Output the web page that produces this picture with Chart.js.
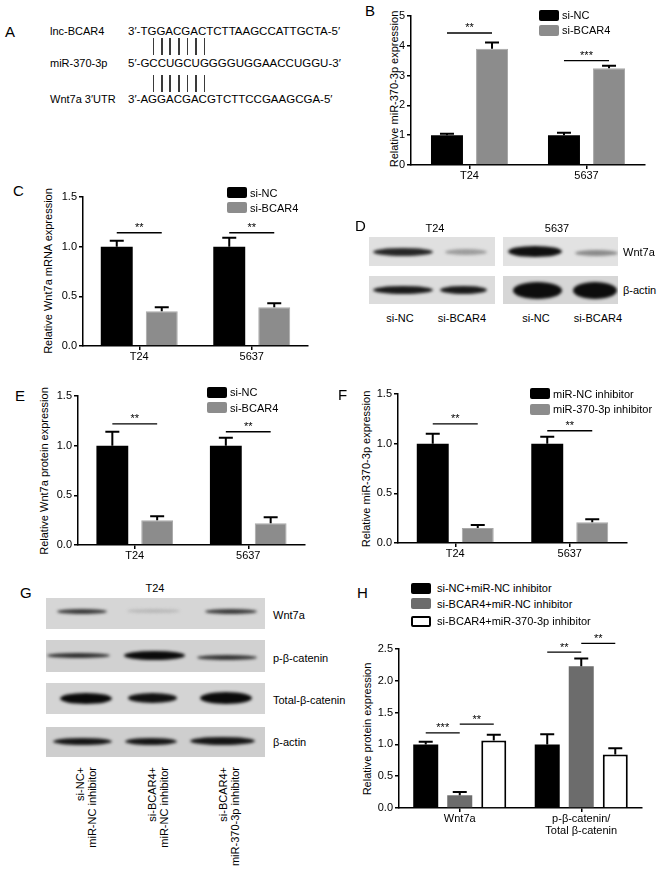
<!DOCTYPE html>
<html>
<head>
<meta charset="utf-8">
<script src="https://cdn.jsdelivr.net/npm/chart.js@4.4.1/dist/chart.umd.min.js"></script>
<style>
html, body { margin: 0; padding: 0; background: #fff; }
#page { position: relative; width: 669px; height: 869px; overflow: hidden; font-family: 'Liberation Sans', Arial, Helvetica, sans-serif; color: #000; }
.t { position: absolute; white-space: nowrap; font-size: 11px; line-height: 13px; }
.seq { font-size: 11.5px; }
.letter { font-size: 15px; line-height: 17px; }
.sw { position: absolute; width: 20px; height: 11px; border-radius: 2px; box-sizing: border-box; }
.blot { position: absolute; overflow: hidden; }
.band { position: absolute; border-radius: 50%; filter: blur(1.6px); }
.tick { position: absolute; width: 1.6px; background: #3a3a3a; }
.rot { position: absolute; width: 100px; font-size: 11px; line-height: 12px; text-align: right; transform-origin: 0 0; transform: rotate(-90deg); white-space: nowrap; }
canvas { position: absolute; }
</style>
</head>
<body>
<div id="page"></div>
<script>
// ---- data ----
const cells = ['T24', '5637'];

// B: miR-370-3p after BCAR4 knockdown
const bNC = [1.0, 1.0];
const bNCErr = [0.05, 0.08];
const bKD = [3.9, 3.25];
const bKDErr = [0.21, 0.08];
const bSig = [[0, 0, 1, 4.43, '**'], [1, 0, 1, 3.5, '***']];

// C: Wnt7a mRNA
const cNC = [1.0, 1.0];
const cNCErr = [0.06, 0.09];
const cKD = [0.35, 0.39];
const cKDErr = [0.04, 0.04];
const cSig = [[0, 0, 1, 1.14, '**'], [1, 0, 1, 1.14, '**']];

// E: Wnt7a protein
const eNC = [1.0, 1.0];
const eNCErr = [0.14, 0.08];
const eKD = [0.25, 0.22];
const eKDErr = [0.04, 0.06];
const eSig = [[0, 0, 1, 1.22, '**'], [1, 0, 1, 1.14, '**']];

// F: miR-370-3p after inhibitor
const fNC = [1.0, 1.0];
const fNCErr = [0.1, 0.07];
const fInh = [0.15, 0.21];
const fInhErr = [0.03, 0.03];
const fSig = [[0, 0, 1, 1.2, '**'], [1, 0, 1, 1.13, '**']];

// H: rescue
const hCats = ['Wnt7a', ['p-β-catenin/', 'Total β-catenin']];
const hNC = [1.0, 1.0];
const hNCErr = [0.04, 0.16];
const hKD = [0.2, 2.23];
const hKDErr = [0.05, 0.12];
const hRescue = [1.06, 0.84];
const hRescueErr = [0.09, 0.1];
const hSig = [[0, 0, 1, 1.18, '***'], [0, 1, 2, 1.32, '**'], [1, 0, 1, 2.45, '**'], [1, 1, 2, 2.59, '**']];

const FONT = "'Liberation Sans', Arial, Helvetica, sans-serif";
const GRAY = '#8c8c8c';
const DARKGRAY = '#6c6c6c';
const page = document.getElementById('page');

Chart.defaults.font.family = FONT;
Chart.defaults.font.size = 11;
Chart.defaults.color = '#000';

// ---- helpers for plain text ----
function text(x, y, s, cls, align) {
    const d = document.createElement('div');
    d.className = 't' + (cls ? ' ' + cls : '');
    d.textContent = s;
    d.style.left = x + 'px';
    d.style.top = y + 'px';
    const tx = align === 'c' ? '-50%' : align === 'r' ? '-100%' : '0';
    d.style.transform = `translate(${tx}, -50%)`;
    page.appendChild(d);
    return d;
}

function yTitle(x, y, s) {
    const d = text(x, y, s);
    d.style.transform = 'translate(-50%, -50%) rotate(-90deg)';
}

function legend(x, tx, rows) {
    rows.forEach(([y, color, label, border]) => {
        const sw = document.createElement('div');
        sw.className = 'sw';
        sw.style.left = x + 'px';
        sw.style.top = (y - 5.5) + 'px';
        sw.style.background = color;
        if (border) sw.style.border = '2px solid #000';
        page.appendChild(sw);
        text(tx, y, label);
    });
}

function blot(x1, y1, x2, y2, bg, bands) {
    const b = document.createElement('div');
    b.className = 'blot';
    b.style.left = x1 + 'px';
    b.style.top = y1 + 'px';
    b.style.width = (x2 - x1) + 'px';
    b.style.height = (y2 - y1) + 'px';
    b.style.background = bg;
    bands.forEach(([bx1, bx2, by, h, c]) => {
        const d = document.createElement('div');
        d.className = 'band';
        d.style.left = (bx1 - x1) + 'px';
        d.style.top = (by - y1 - h / 2) + 'px';
        d.style.width = (bx2 - bx1) + 'px';
        d.style.height = h + 'px';
        d.style.background = c;
        b.appendChild(d);
    });
    page.appendChild(b);
}

// ---- chart plugins: error bars and significance brackets ----
const errorBars = {
    id: 'errorBars',
    afterDatasetsDraw(chart) {
        const ctx = chart.ctx;
        const y = chart.scales.y;
        chart.data.datasets.forEach((ds, i) => {
            if (!ds.errors) return;
            chart.getDatasetMeta(i).data.forEach((bar, j) => {
                const top = y.getPixelForValue(ds.data[j] + ds.errors[j]);
                const half = 7;
                ctx.save();
                ctx.strokeStyle = '#000';
                ctx.lineWidth = 2;
                ctx.beginPath();
                ctx.moveTo(bar.x, bar.y);
                ctx.lineTo(bar.x, top);
                ctx.moveTo(bar.x - half, top);
                ctx.lineTo(bar.x + half, top);
                ctx.stroke();
                ctx.restore();
            });
        });
    }
};

const sigBrackets = {
    id: 'sig',
    afterDraw(chart, args, opts) {
        const ctx = chart.ctx;
        const y = chart.scales.y;
        (opts.marks || []).forEach(([cat, a, b, val, label]) => {
            const xa = chart.getDatasetMeta(a).data[cat].x;
            const xb = chart.getDatasetMeta(b).data[cat].x;
            const py = y.getPixelForValue(val);
            ctx.save();
            ctx.strokeStyle = '#000';
            ctx.lineWidth = 1.3;
            ctx.beginPath();
            ctx.moveTo(xa, py);
            ctx.lineTo(xb, py);
            ctx.stroke();
            ctx.fillStyle = '#000';
            ctx.font = '11px ' + FONT;
            ctx.textAlign = 'center';
            ctx.textBaseline = 'alphabetic';
            ctx.fillText(label, (xa + xb) / 2, py - 1.5);
            ctx.restore();
        });
    }
};

// box: chart area in page pixels (left/right of axes, y of top tick and of zero)
function barChart(box, labels, datasets, yMax, step, dec, marks, xh, catPct, barPct, padT) {
    const W = 30, padR = 4;
    const cw = W + (box.r - box.l) + padR;
    const ch = padT + (box.b - box.t) + xh;
    const cv = document.createElement('canvas');
    cv.width = cw;
    cv.height = ch;
    cv.style.left = (box.l - W) + 'px';
    cv.style.top = (box.t - padT) + 'px';
    cv.style.width = cw + 'px';
    cv.style.height = ch + 'px';
    page.appendChild(cv);

    datasets.forEach(ds => {
        ds.categoryPercentage = catPct;
        ds.barPercentage = barPct;
    });

    const axisGrid = { display: true, drawOnChartArea: false, drawTicks: true, tickLength: 4, color: '#000', lineWidth: 1.5 };
    return new Chart(cv, {
        type: 'bar',
        data: { labels: labels, datasets: datasets },
        options: {
            responsive: false,
            animation: false,
            devicePixelRatio: 1,
            layout: { padding: { top: padT, right: padR, left: 0, bottom: 0 } },
            plugins: {
                legend: { display: false },
                tooltip: { enabled: false },
                sig: { marks: marks }
            },
            scales: {
                x: {
                    grid: Object.assign({ offset: false }, axisGrid),
                    border: { display: true, color: '#000', width: 1.5 },
                    ticks: { color: '#000', padding: 1, maxRotation: 0, font: { size: 11, lineHeight: 1.1 } },
                    afterFit(s) { s.height = xh; }
                },
                y: {
                    min: 0,
                    max: yMax,
                    grid: axisGrid,
                    border: { display: true, color: '#000', width: 1.5 },
                    ticks: { stepSize: step, color: '#000', padding: 2, callback: v => v.toFixed(dec) },
                    afterFit(s) { s.width = W; }
                }
            }
        },
        plugins: [errorBars, sigBrackets]
    });
}

// ---- panel A: sequences ----
text(5, 31, 'A', 'letter');
const seqNames = ['lnc-BCAR4', 'miR-370-3p', 'Wnt7a 3′UTR'];
const seqs = ['3′-TGGACGACTCTTAAGCCATTGCTA-5′', '5′-GCCUGCUGGGGUGGAACCUGGU-3′', '3′-AGGACGACGTCTTCCGAAGCGA-5′'];
const seqY = [31, 63, 99];
const pairIdx = [4, 5, 6, 7, 8, 9, 10];
let midSpans = [];
seqs.forEach((s, i) => {
    text(50, seqY[i], seqNames[i]);
    const d = text(128, seqY[i], '', 'seq');
    [...s].forEach(ch => {
        const sp = document.createElement('span');
        sp.textContent = ch;
        d.appendChild(sp);
        if (i === 1) midSpans.push(sp);
    });
});
const pageRect = page.getBoundingClientRect();
pairIdx.forEach(k => {
    const r = midSpans[k].getBoundingClientRect();
    const cx = (r.left + r.right) / 2 - pageRect.left;
    [[38, 55], [75, 92]].forEach(([y1, y2]) => {
        const t = document.createElement('div');
        t.className = 'tick';
        t.style.left = (cx - 0.8) + 'px';
        t.style.top = y1 + 'px';
        t.style.height = (y2 - y1) + 'px';
        page.appendChild(t);
    });
});

// ---- panel B ----
text(365, 10, 'B', 'letter');
yTitle(393.5, 89, 'Relative miR-370-3p expression');
barChart({ l: 411, r: 645, t: 16, b: 165 }, cells, [
    { label: 'si-NC', data: bNC, errors: bNCErr, backgroundColor: '#000' },
    { label: 'si-BCAR4', data: bKD, errors: bKDErr, backgroundColor: GRAY, borderColor: '#a8a8a8', borderWidth: 1 }
], 5, 1, 0, bSig, 24, 0.77, 0.71, 10);
legend(539, 562, [[15, '#000', 'si-NC'], [30, GRAY, 'si-BCAR4']]);

// ---- panel C ----
text(13, 190, 'C', 'letter');
yTitle(48, 271, 'Relative Wnt7a mRNA expression');
barChart({ l: 83, r: 308, t: 197, b: 346 }, cells, [
    { label: 'si-NC', data: cNC, errors: cNCErr, backgroundColor: '#000' },
    { label: 'si-BCAR4', data: cKD, errors: cKDErr, backgroundColor: GRAY, borderColor: '#a8a8a8', borderWidth: 1 }
], 1.5, 0.5, 1, cSig, 24, 0.8, 0.71, 10);
legend(227, 250, [[192.5, '#000', 'si-NC'], [207.5, GRAY, 'si-BCAR4']]);

// ---- panel D: western blot ----
text(355, 225, 'D', 'letter');
text(435, 228, 'T24', null, 'c');
text(557, 228, '5637', null, 'c');
blot(369, 237, 495, 266, '#e0e0e0', [[373, 433, 252, 8, '#262626'], [445, 487, 252, 6, '#9c9c9c']]);
blot(503, 237, 618, 266, '#e2e2e2', [[508, 562, 251, 11, '#101010'], [575, 618, 253, 6, '#8a8a8a']]);
blot(369, 276, 495, 304, '#dcdcdc', [[373, 433, 290, 8, '#1a1a1a'], [440, 487, 290, 8, '#1a1a1a']]);
blot(503, 276, 618, 304, '#d6d6d6', [[513, 562, 290, 17, '#0d0d0d'], [573, 617, 290, 17, '#0d0d0d']]);
text(623, 252, 'Wnt7a');
text(623, 290, 'β-actin');
text(400, 318, 'si-NC', null, 'c');
text(462, 318, 'si-BCAR4', null, 'c');
text(536, 318, 'si-NC', null, 'c');
text(598, 318, 'si-BCAR4', null, 'c');

// ---- panel E ----
text(15, 395, 'E', 'letter');
yTitle(44, 470.5, 'Relative Wnt7a protein expression');
barChart({ l: 78, r: 305, t: 396, b: 545 }, cells, [
    { label: 'si-NC', data: eNC, errors: eNCErr, backgroundColor: '#000' },
    { label: 'si-BCAR4', data: eKD, errors: eKDErr, backgroundColor: GRAY, borderColor: '#a8a8a8', borderWidth: 1 }
], 1.5, 0.5, 1, eSig, 24, 0.79, 0.71, 10);
legend(207, 230, [[392, '#000', 'si-NC'], [407.5, GRAY, 'si-BCAR4']]);

// ---- panel F ----
text(338, 394, 'F', 'letter');
yTitle(365.5, 468.5, 'Relative miR-370-3p expression');
barChart({ l: 398, r: 627, t: 394, b: 543 }, cells, [
    { label: 'miR-NC inhibitor', data: fNC, errors: fNCErr, backgroundColor: '#000' },
    { label: 'miR-370-3p inhibitor', data: fInh, errors: fInhErr, backgroundColor: GRAY, borderColor: '#a8a8a8', borderWidth: 1 }
], 1.5, 0.5, 1, fSig, 24, 0.786, 0.71, 10);
legend(530, 553, [[393.5, '#000', 'miR-NC inhibitor'], [409, GRAY, 'miR-370-3p inhibitor']]);

// ---- panel G: western blot ----
text(20, 592, 'G', 'letter');
text(155, 588, 'T24', null, 'c');
blot(46, 598, 265, 629, '#d6d6d6', [[57, 107, 611, 5, '#3a3a3a'], [127, 180, 611, 4, '#b8b8b8'], [205, 257, 611, 5, '#3a3a3a']]);
blot(46, 640, 265, 672, '#d1d1d1', [[47, 110, 655, 5, '#2e2e2e'], [124, 185, 655, 9, '#0a0a0a'], [197, 257, 657, 5, '#333']]);
blot(46, 683, 265, 714, '#d4d4d4', [[60, 112, 698, 11, '#0a0a0a'], [128, 177, 698, 10, '#111'], [200, 252, 698, 12, '#0a0a0a']]);
blot(46, 727, 265, 757, '#cecece', [[53, 112, 741, 7, '#151515'], [125, 177, 741, 7, '#151515'], [190, 255, 741, 8, '#151515']]);
text(273, 615, 'Wnt7a');
text(273, 658, 'p-β-catenin');
text(273, 700, 'Total-β-catenin');
text(273, 742, 'β-actin');
const gLanes = [['si-NC+', 'miR-NC inhibitor'], ['si-BCAR4+', 'miR-NC inhibitor'], ['si-BCAR4+', 'miR-370-3p inhibitor']];
[74, 146, 217].forEach((x, i) => {
    const d = document.createElement('div');
    d.className = 'rot';
    d.innerHTML = gLanes[i].join('<br>');
    d.style.left = x + 'px';
    d.style.top = (767 + 100) + 'px';
    page.appendChild(d);
});

// ---- panel H ----
text(357, 592, 'H', 'letter');
yTitle(367, 728.5, 'Relative protein expression');
barChart({ l: 399, r: 642, t: 649, b: 808 }, hCats, [
    { label: 'si-NC+miR-NC inhibitor', data: hNC, errors: hNCErr, backgroundColor: '#000' },
    { label: 'si-BCAR4+miR-NC inhibitor', data: hKD, errors: hKDErr, backgroundColor: DARKGRAY },
    { label: 'si-BCAR4+miR-370-3p inhibitor', data: hRescue, errors: hRescueErr, backgroundColor: '#fff', borderColor: '#000', borderWidth: 2 }
], 2.5, 0.5, 1, hSig, 40, 0.84, 0.735, 24);
legend(411, 437, [[588, '#000', 'si-NC+miR-NC inhibitor'], [603.5, DARKGRAY, 'si-BCAR4+miR-NC inhibitor'], [621, '#fff', 'si-BCAR4+miR-370-3p inhibitor', true]]);
</script>
</body>
</html>
